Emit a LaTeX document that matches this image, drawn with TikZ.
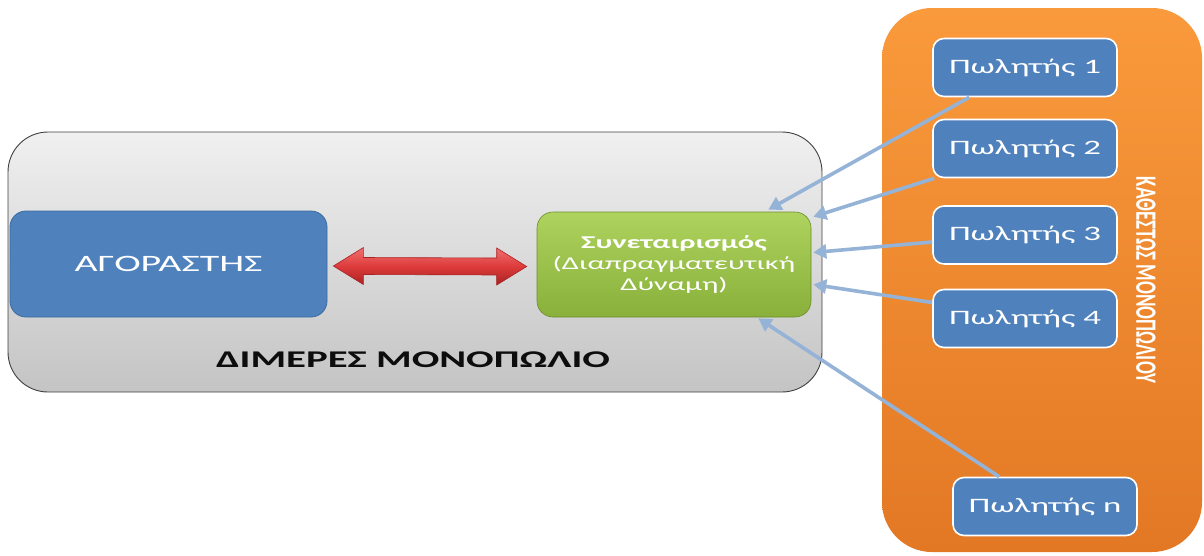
\documentclass[tikz,border=0pt]{standalone}
\usepackage{fontspec}
\setmainfont{Carlito}
\newfontfamily\widefont[FakeStretch=1.7]{Carlito}
\usetikzlibrary{arrows.meta,calc,positioning}

\definecolor{boxblue}{HTML}{4F81BD}
\definecolor{boxblueedge}{HTML}{3C6AA0}
\definecolor{linkblue}{HTML}{95B3D7}
\definecolor{greytop}{HTML}{F0F0F0}
\definecolor{greybot}{HTML}{C4C4C4}
\definecolor{greenhi}{HTML}{AED35E}
\definecolor{greenlo}{HTML}{88B03A}
\definecolor{orangehi}{HTML}{F99A3C}
\definecolor{orangelo}{HTML}{E37824}
\definecolor{redhi}{HTML}{F07070}
\definecolor{redmid}{HTML}{DE3B3B}
\definecolor{redlo}{HTML}{A82222}

\tikzset{
  market/.style={draw=black!75, line width=0.9pt, rounded corners=40pt,
    top color=greytop, bottom color=greybot, minimum width=814pt, minimum height=260pt},
  regime/.style={rounded corners=50pt, top color=orangehi, bottom color=orangelo,
    minimum width=320pt, minimum height=544pt},
  buyerbox/.style={draw=boxblueedge, line width=0.8pt, fill=boxblue, rounded corners=16pt,
    minimum width=317pt, minimum height=106pt, text=white, font=\widefont\fontsize{23.5}{27}\selectfont},
  coopbox/.style={draw=greenlo!80!black, line width=0.6pt, rounded corners=16pt,
    top color=greenhi, bottom color=greenlo, minimum width=274pt, minimum height=105pt,
    text=white, align=center, font=\widefont\fontsize{18}{21}\selectfont},
  sellerbox/.style={draw=white, line width=1.6pt, fill=boxblue, rounded corners=11pt,
    minimum width=184pt, minimum height=58pt, text=white, font=\widefont\fontsize{20.5}{24}\selectfont},
  sellerlink/.style={draw=linkblue, line width=3.6pt,
    -{Triangle[length=13pt,width=14pt]}},
  titletext/.style={text=black!95, font=\widefont\bfseries\fontsize{24}{28}\selectfont},
}

\begin{document}
\begin{tikzpicture}[x=1pt,y=-1pt]
  \useasboundingbox (0,0) rectangle (1204,555);

  % two frames
  \node[market] (market) at (415,262) {};
  \node[regime] (regime) at (1042,280) {};

  % bilateral monopoly
  \node[buyerbox] (buyer) at (168.5,264) {ΑΓΟΡΑΣΤΗΣ};
  \node[coopbox] (coop) at (674,264.5)
    {\bfseries Συνεταιρισμός\\(Διαπραγματευτική\\Δύναμη)};
  \node[titletext] (title) at (413,360) {ΔΙΜΕΡΕΣ ΜΟΝΟΠΩΛΙΟ};

  % sellers
  \node[sellerbox] (s1) at (1025,67.5)  {Πωλητής 1};
  \node[sellerbox] (s2) at (1025,148.5) {Πωλητής 2};
  \node[sellerbox] (s3) at (1025,235)   {Πωλητής 3};
  \node[sellerbox] (s4) at (1025,318.5) {Πωλητής 4};
  \node[sellerbox] (sn) at (1045,506.5) {Πωλητής n};

  \node[text=white] (side) at (1146,280)
    {\rotatebox{-90}{\scalebox{1}[1.55]{\bfseries\fontsize{19}{22}\selectfont ΚΑΘΕΣΤΩΣ ΜΟΝΟΠΩΛΙΟΥ}}};

  % double-headed arrow between buyer and cooperative
  \coordinate (la) at ($(buyer.east)+(6,2)$);
  \coordinate (ra) at ($(coop.west)+(-10,2)$);
  \path[draw=redlo, line width=0.6pt, top color=redhi, bottom color=redlo, middle color=redmid]
    (la) -- ($(la)+(30,-18.5)$) -- ($(la)+(30,-8.5)$) -- ($(ra)+(-30,-8.5)$)
    -- ($(ra)+(-30,-18.5)$) -- (ra) -- ($(ra)+(-30,18.5)$) -- ($(ra)+(-30,8.5)$)
    -- ($(la)+(30,8.5)$) -- ($(la)+(30,18.5)$) -- cycle;

  % sellers feeding the cooperative
  \draw[sellerlink] ($(s1.south west)+(37,0)$) -- ($(coop.north east)+(-43,-2)$);
  \draw[sellerlink] ($(s2.south west)+(2,0)$)  -- ($(coop.north east)+(2,5)$);
  \draw[sellerlink] ($(s3.west)+(0,7)$)        -- ($(coop.east)+(2,-12)$);
  \draw[sellerlink] ($(s4.west)+(0,-16)$)      -- ($(coop.east)+(2,20)$);
  \draw[sellerlink] ($(sn.north west)+(47,0)$) -- ($(coop.south east)+(-53,1)$);
\end{tikzpicture}
\end{document}
